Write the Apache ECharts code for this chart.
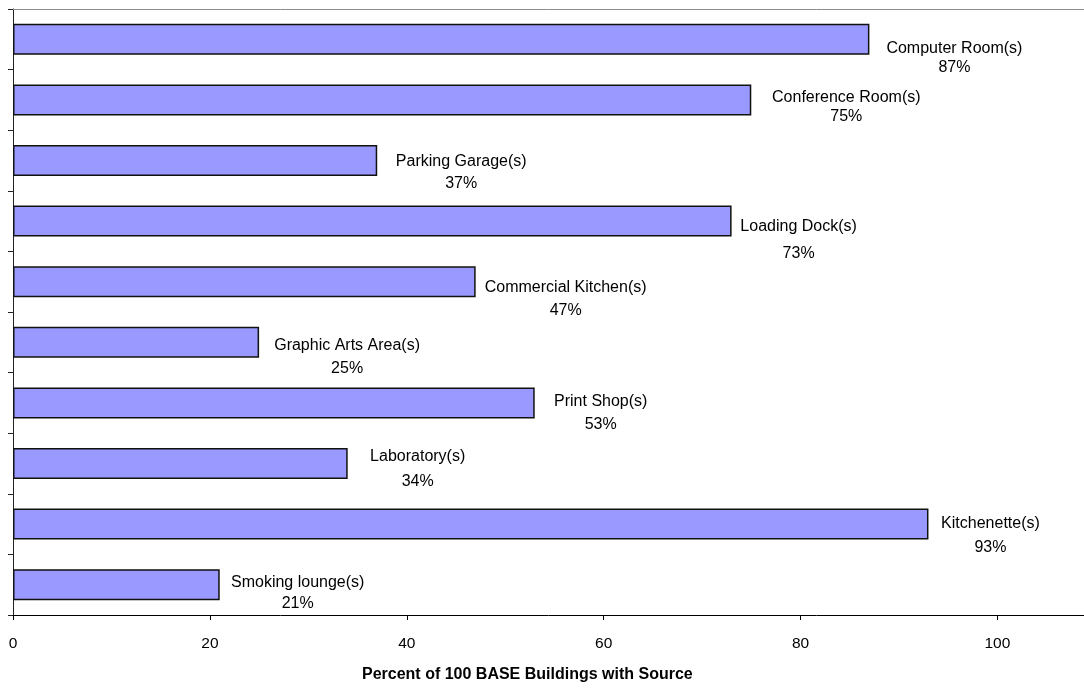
<!DOCTYPE html>
<html>
<head>
<meta charset="utf-8">
<script src="https://cdn.jsdelivr.net/npm/echarts@6/dist/echarts.min.js"></script>
<style>html,body{margin:0;padding:0;background:#fff}#c{width:1084px;height:688px}</style>
</head>
<body>
<div id="c"></div>
<script>
// ---- data ----
const categories = [
  'Computer Room(s)', 'Conference Room(s)', 'Parking Garage(s)', 'Loading Dock(s)',
  'Commercial Kitchen(s)', 'Graphic Arts Area(s)', 'Print Shop(s)', 'Laboratory(s)',
  'Kitchenette(s)', 'Smoking lounge(s)'
];
const percentValues = [87, 75, 37, 73, 47, 25, 53, 34, 93, 21];
const xTickValues = [0, 20, 40, 60, 80, 100];
const axisTitle = 'Percent of 100 BASE Buildings with Source';

// ---- label layout (offsets from bar end / bar centre, px) ----
const labelDx = [85, 95, 84, 67, 90, 88, 66, 70, 62, 78];
const labelDy = [19, 7, 12, 19, 17, 15, 10, 6, 11, 8];
const labelLineHeight = [19, 19, 22, 27, 23, 23, 23, 25, 24, 21];

const FONT = '"Liberation Sans", Arial, Helvetica, sans-serif';

const seriesData = percentValues.map((v, i) => ({
  value: v,
  label: {
    offset: [labelDx[i], labelDy[i]],
    lineHeight: labelLineHeight[i]
  }
}));

const chart = echarts.init(document.getElementById('c'), null, { renderer: 'canvas' });
chart.setOption({
  animation: false,
  backgroundColor: '#ffffff',
  title: {
    text: axisTitle,
    left: 362,
    top: 667,
    padding: 0,
    textStyle: { fontFamily: FONT, fontSize: 16, fontWeight: 'bold', color: '#000' }
  },
  grid: { left: 13, top: 9, bottom: 73, right: 0, containLabel: false },
  xAxis: [
    {
      type: 'value',
      position: 'bottom',
      min: 0,
      max: 108.8,
      interval: 20,
      axisLine: { show: true, lineStyle: { color: '#000', width: 1 } },
      axisTick: { show: true, length: 5, inside: false, customValues: xTickValues, lineStyle: { color: '#000' } },
      axisLabel: { show: true, customValues: xTickValues, margin: 21, fontFamily: FONT, fontSize: 15.5, color: '#000' },
      splitLine: { show: false }
    },
    {
      type: 'value',
      position: 'top',
      min: 0,
      max: 108.8,
      axisLine: { show: true, lineStyle: { color: '#8c8c8c', width: 1 } },
      axisTick: { show: false },
      axisLabel: { show: false },
      splitLine: { show: false }
    }
  ],
  yAxis: {
    type: 'category',
    data: categories,
    inverse: true,
    axisLine: { show: true, lineStyle: { color: '#222', width: 1 } },
    axisTick: { show: true, length: 5, inside: false, alignWithLabel: false, lineStyle: { color: '#222' } },
    axisLabel: { show: false },
    splitLine: { show: false }
  },
  series: [{
    type: 'bar',
    xAxisIndex: 0,
    data: seriesData,
    barWidth: 31,
    itemStyle: { color: '#9999ff', borderColor: '#111', borderWidth: 1.5 },
    label: {
      show: true,
      position: 'right',
      distance: 0,
      align: 'center',
      verticalAlign: 'middle',
      fontFamily: FONT,
      fontSize: 16,
      color: '#000',
      formatter: (p) => p.name + '\n' + p.value + '%'
    }
  }]
});
</script>
</body>
</html>
